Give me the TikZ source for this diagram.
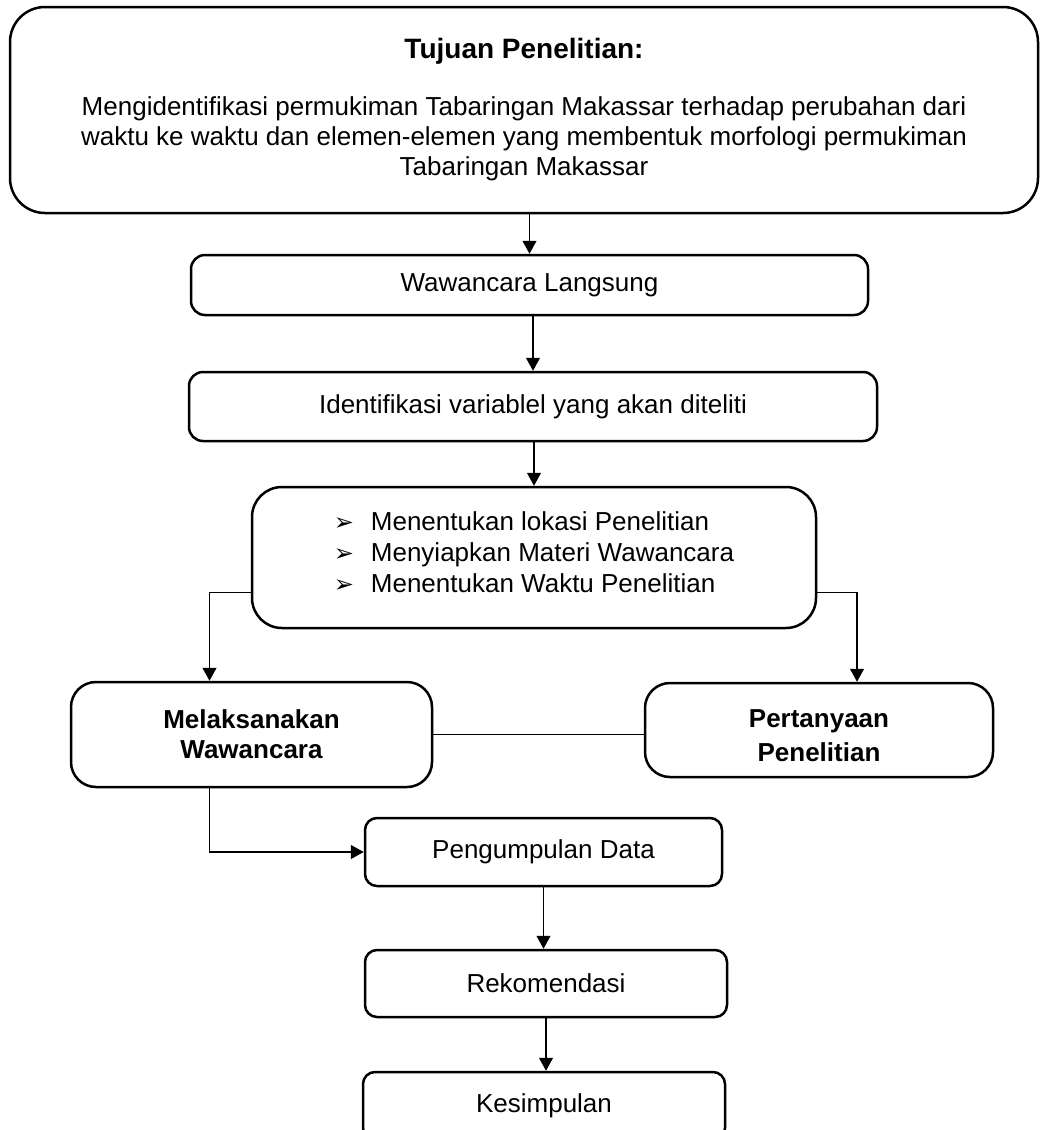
\documentclass[tikz,border=0pt]{standalone}
\usepackage{fontspec}
\setmainfont{Liberation Sans}
\newfontfamily\symfont{DejaVu Sans}
\usetikzlibrary{arrows.meta}

\newcommand{\bul}{\makebox[37pt][l]{\symfont\fontsize{24}{24}\selectfont ➢}}

\begin{document}
\begin{tikzpicture}[x=1pt, y=-1pt,
    box/.style={rectangle, draw, line width=2.5pt, rounded corners=12pt, align=center,
      inner sep=0pt, font=\fontsize{26}{30}\selectfont},
    arr/.style={line width=1.2pt, -{Triangle[length=13pt, width=14pt]}},
    conn/.style={line width=1.2pt}]
    \useasboundingbox (0,0) rectangle (1041,1130);

    \node[box, rounded corners=35pt, minimum width=1028pt, minimum height=206pt] (tujuan) at (524,110)
      {{\fontsize{28}{32}\selectfont\bfseries Tujuan Penelitian:}\\[27pt]
       Mengidentifikasi permukiman Tabaringan Makassar terhadap perubahan dari\\
       waktu ke waktu dan elemen-elemen yang membentuk morfologi permukiman\\
       Tabaringan Makassar};
    \node[box, rounded corners=14pt, minimum width=677pt, minimum height=60pt] (waw) at (529.5,285) {Wawancara Langsung};
    \node[box, rounded corners=14pt, minimum width=688pt, minimum height=69pt] (idf) at (533,406.5) {Identifikasi variablel yang akan diteliti};
    \node[box, rounded corners=30pt, minimum width=564pt, minimum height=141pt, align=left] (siap) at (534,557.5)
      {\bul Menentukan lokasi Penelitian\\[1pt]
       \bul Menyiapkan Materi Wawancara\\[1pt]
       \bul Menentukan Waktu Penelitian\rule[-10pt]{0pt}{10pt}};
    \node[box, rounded corners=25pt, minimum width=361pt, minimum height=105pt, font=\fontsize{26}{30}\selectfont\bfseries] (laks) at (251.5,734.5)
      {Melaksanakan\\Wawancara};
    \node[box, rounded corners=25pt, minimum width=348pt, minimum height=94pt, font=\fontsize{26}{30}\selectfont\bfseries] (tanya) at (819,730)
      {\rule{0pt}{29pt}Pertanyaan\\[4pt]Penelitian};
    \node[box, minimum width=357pt, minimum height=68pt] (kumpul) at (543.5,852) {Pengumpulan Data};
    \node[box, minimum width=362pt, minimum height=67pt] (rekom) at (546,983.5) {Rekomendasi};
    \node[box, minimum width=362pt, minimum height=68pt] (simpul) at (544,1106) {Kesimpulan};

    \draw[arr] (tujuan.south -| waw.north) -- (waw.north);
    \draw[arr] (idf.north |- waw.south) -- (idf.north);
    \draw[arr] (siap.north |- idf.south) -- (siap.north);
    \draw[arr] ([yshift=-35pt]siap.west) -| ([xshift=-42pt]laks.north);
    \draw[arr] ([yshift=-35pt]siap.east) -| ([xshift=38pt]tanya.north);
    \draw[conn] (laks.east) -- (laks.east -| tanya.west);
    \draw[arr] ([xshift=-42pt]laks.south) |- (kumpul.west);
    \draw[arr] (kumpul.south) -- (kumpul.south |- rekom.north);
    \draw[arr] (rekom.south) -- (rekom.south |- simpul.north);
\end{tikzpicture}
\end{document}
